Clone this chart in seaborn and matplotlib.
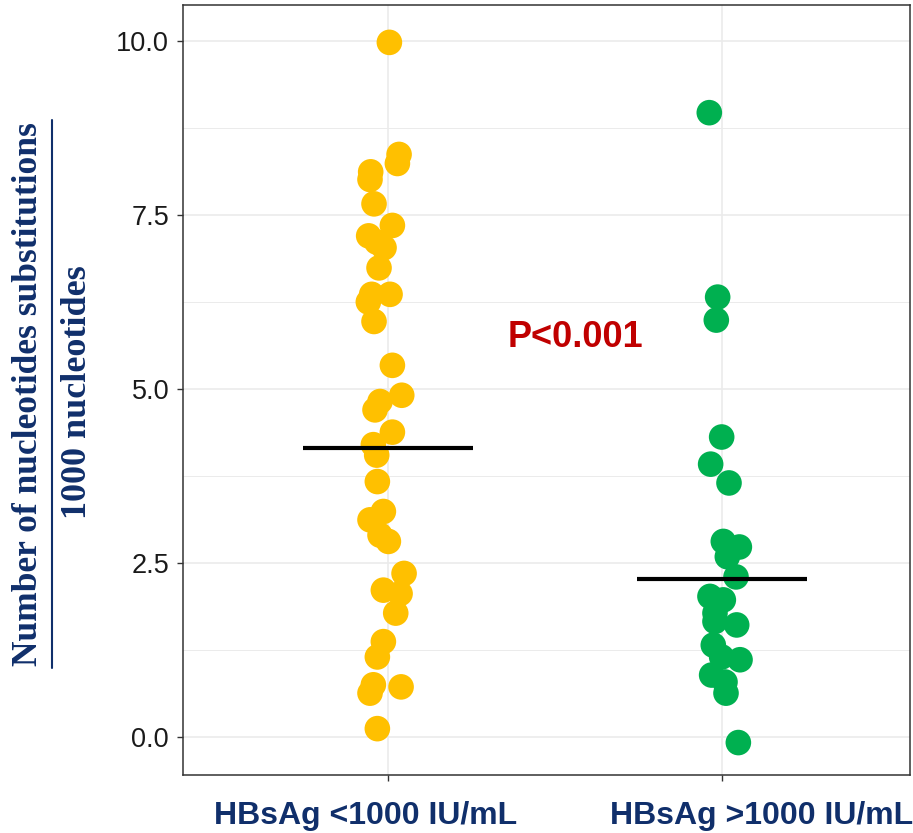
import numpy as np
import pandas as pd
import matplotlib
matplotlib.use("Agg")
import matplotlib.pyplot as plt
import matplotlib.transforms as mtransforms
from matplotlib.lines import Line2D
from matplotlib.ticker import MultipleLocator, FormatStrFormatter
import seaborn as sns

# groups and colours
groups = ["HBsAg <1000 IU/mL", "HBsAg >1000 IU/mL"]
group_colors = ["#FFC000", "#00B050"]

# substitutions per 1000 nucleotides
low_values = [9.98, 8.37, 8.24, 8.12, 8.01, 7.66, 7.35, 7.20, 7.11, 7.03,
              6.74, 6.36, 6.36, 6.25, 5.97, 5.34, 4.91, 4.82, 4.70, 4.38,
              4.20, 4.05, 3.67, 3.24, 3.12, 2.90, 2.81, 2.35, 2.11, 2.06,
              1.78, 1.37, 1.15, 0.75, 0.63, 0.72, 0.12]
low_jitter = [0.004, 0.033, 0.028, -0.052, -0.054, -0.042, 0.013, -0.058, -0.034, -0.012,
              -0.027, -0.049, 0.006, -0.059, -0.042, 0.013, 0.041, -0.024, -0.039, 0.013,
              -0.044, -0.034, -0.032, -0.014, -0.054, -0.024, 0.001, 0.048, -0.014, 0.036,
              0.023, -0.014, -0.032, -0.044, -0.054, 0.039, -0.032]

high_values = [8.97, 6.32, 5.99, 4.31, 3.92, 3.65, 2.81, 2.73, 2.59, 2.30,
               2.02, 1.97, 1.78, 1.66, 1.61, 1.32, 1.15, 1.11, 0.89, 0.79,
               0.63, -0.08]
high_jitter = [-0.038, -0.013, -0.017, -0.001, -0.034, 0.021, 0.004, 0.052, 0.016, 0.042,
               -0.036, 0.004, -0.021, -0.021, 0.044, -0.026, -0.001, 0.054, -0.031, 0.009,
               0.012, 0.049]

# horizontal centre lines as drawn in the picture
centre_lines = [4.15, 2.27]
p_label = "P<0.001"

navy = "#102F6B"

df = pd.DataFrame({
    "group": [groups[0]] * len(low_values) + [groups[1]] * len(high_values),
    "value": low_values + high_values,
    "pos": [0 + j for j in low_jitter] + [1 + j for j in high_jitter],
})

sns.set_theme(style="white")
plt.rcParams['font.family'] = ['Liberation Sans', 'DejaVu Sans']

fig = plt.figure(figsize=(9.13, 8.33), dpi=100)
ax = fig.add_axes([183 / 913, 1 - 775 / 833, (910 - 183) / 913, (775 - 5) / 833])

sns.scatterplot(data=df, x="pos", y="value", hue="group", palette=group_colors,
                s=340, linewidth=0, alpha=1, legend=False, ax=ax, zorder=3)

for i, c in enumerate(centre_lines):
    ax.hlines(c, i - 0.255, i + 0.255, color="black", lw=3, zorder=4)

ax.text(0.561, 5.74, p_label, ha="center", va="center", color="#C00000",
        fontsize=26, fontweight="bold", zorder=5)

ax.set_xlim(-0.614, 1.563)
ax.set_ylim(-0.546, 10.517)

ax.yaxis.set_major_locator(MultipleLocator(2.5))
ax.yaxis.set_minor_locator(MultipleLocator(1.25))
ax.yaxis.set_major_formatter(FormatStrFormatter('%.1f'))
ax.set_xticks([0, 1])
ax.set_xticklabels(groups, fontsize=23, fontweight="bold", color=navy)

ax.set_axisbelow(True)
ax.grid(which="major", color="#EBEBEB", lw=1.2)
ax.grid(which="minor", axis="y", color="#EBEBEB", lw=0.7)

for s in ax.spines.values():
    s.set_color("#333333")
    s.set_linewidth(1.1)

ax.tick_params(axis="both", which="major", direction="out", length=4, width=1,
               color="#333333", left=True, bottom=True)
ax.tick_params(axis="y", labelsize=19.5, labelcolor="#1a1a1a", pad=6)
ax.tick_params(axis="x", pad=15)
ax.set_xlabel("")
ax.set_ylabel("")

# shift the two x labels the way they sit in the picture
shifts = [-22, 40]
for lab, dx in zip(ax.get_xticklabels(), shifts):
    lab.set_transform(lab.get_transform() + mtransforms.ScaledTranslation(dx / 100, 0, fig.dpi_scale_trans))

# y label drawn as a fraction
fig.text(29 / 913, 1 - 394 / 833, "Number of nucleotides substitutions", rotation=90,
         ha="center", va="center", family="Liberation Serif", fontweight="bold",
         fontsize=25.5, color=navy)
fig.text(78 / 913, 1 - 392 / 833, "1000 nucleotides", rotation=90,
         ha="center", va="center", family="Liberation Serif", fontweight="bold",
         fontsize=26, color=navy)
fig.add_artist(Line2D([52 / 913, 52 / 913], [1 - 120 / 833, 1 - 668 / 833],
                      transform=fig.transFigure, color=navy, lw=1.5))

fig.savefig("out.png", dpi=100)
